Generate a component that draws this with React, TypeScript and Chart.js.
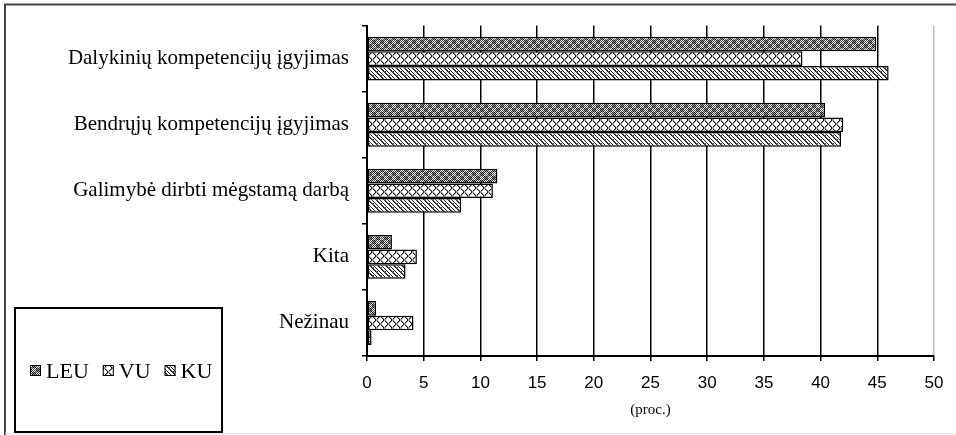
import React, { useEffect, useRef } from "react";
import { Chart, registerables } from "chart.js";

Chart.register(...registerables);

const categories = [
  "Dalykinių kompetencijų įgyjimas",
  "Bendrųjų kompetencijų įgyjimas",
  "Galimybė dirbti mėgstamą darbą",
  "Kita",
  "Nežinau",
];
const seriesNames = ["LEU", "VU", "KU"];
const leuValues = [44.9, 40.4, 11.5, 2.2, 0.8];
const vuValues = [38.4, 42.0, 11.1, 4.4, 4.1];
const kuValues = [46.0, 41.8, 8.3, 3.4, 0.4];
const xMin = 0;
const xMax = 50;
const xStep = 5;
const axisTitle = "(proc.)";

function makePattern(kind: string): CanvasPattern | string {
  const c = document.createElement("canvas");
  const size = 8;
  c.width = size;
  c.height = size;
  const g = c.getContext("2d");
  if (!g) return "#888";
  g.fillStyle = "#fff";
  g.fillRect(0, 0, size, size);
  const px = (x: number, y: number, col: string) => {
    g.fillStyle = col;
    g.fillRect(((x % size) + size) % size, ((y % size) + size) % size, 1, 1);
  };
  if (kind === "LEU") {
    for (let y = 0; y < size; y++)
      for (let x = 0; x < size; x++) {
        const blk = (Math.floor(x / 4) + Math.floor(y / 4)) % 2;
        if ((x + y) % 2 === 0) px(x, y, blk ? "#111" : "#444");
        else if (blk) px(x, y, "#999");
      }
  } else if (kind === "VU") {
    for (let i = 0; i < size; i++) {
      px(i, i, "#111");
      px(i, size - 1 - i, "#111");
    }
    for (let i = 0; i < size; i++) {
      px(i + 1, i, "#999");
      px(i + 1, size - 1 - i, "#999");
    }
  } else {
    for (let y = 0; y < size; y++) {
      px(y, y, "#111");
      px(y + 1, y, "#555");
      px(y + 4, y, "#111");
    }
    for (let i = 0; i < 3; i++) {
      px(6 - i, 2 + i, "#444");
      px(2 - i, 6 + i, "#444");
    }
  }
  const p = g.createPattern(c, "repeat");
  return p || "#888";
}

export default function App() {
  const ref = useRef<HTMLCanvasElement | null>(null);

  useEffect(() => {
    document.body.style.margin = "0";
    const canvas = ref.current;
    if (!canvas) return;
    const patterns = seriesNames.map((n) => makePattern(n));
    const values = [leuValues, vuValues, kuValues];

    const framePlugin = {
      id: "frameAndLegend",
      beforeDraw(chart: any) {
        const ctx = chart.ctx;
        ctx.save();
        ctx.fillStyle = "#fff";
        ctx.fillRect(0, 0, chart.width, chart.height);
        ctx.strokeStyle = "#444";
        ctx.lineWidth = 2;
        ctx.beginPath();
        ctx.moveTo(5, 436);
        ctx.lineTo(5, 4.5);
        ctx.lineTo(960, 4.5);
        ctx.stroke();
        ctx.strokeStyle = "#e6e6e6";
        ctx.lineWidth = 1;
        ctx.beginPath();
        ctx.moveTo(5, 433.5);
        ctx.lineTo(956, 433.5);
        ctx.stroke();
        ctx.restore();
      },
      afterDraw(chart: any) {
        const ctx = chart.ctx;
        ctx.save();
        ctx.fillStyle = "#fff";
        ctx.fillRect(15, 308, 207, 124);
        ctx.strokeStyle = "#000";
        ctx.lineWidth = 2;
        ctx.strokeRect(15, 308, 207, 124);
        ctx.font = "22px 'Liberation Serif', 'Times New Roman', serif";
        ctx.textBaseline = "middle";
        let x = 30;
        const cy = 371;
        chart.data.datasets.forEach((ds: any, i: number) => {
          ctx.fillStyle = patterns[i] as any;
          ctx.fillRect(x, cy - 6, 11, 11);
          ctx.strokeStyle = "#000";
          ctx.lineWidth = 1;
          ctx.strokeRect(x + 0.5, cy - 5.5, 10, 10);
          ctx.fillStyle = "#000";
          ctx.fillText(ds.label, x + 16, cy + 1);
          x += 16 + ctx.measureText(ds.label).width + 14;
        });
        ctx.restore();
      },
    };

    const chart = new Chart(canvas, {
      type: "bar",
      data: {
        labels: categories,
        datasets: seriesNames.map((n, i) => ({
          label: n,
          data: values[i],
          backgroundColor: patterns[i] as any,
          borderColor: "#000",
          borderWidth: 1.5,
          borderSkipped: false,
          categoryPercentage: 0.665,
          barPercentage: 1.0,
        })),
      },
      options: {
        indexAxis: "y",
        animation: false,
        responsive: false,
        maintainAspectRatio: false,
        layout: { padding: { left: 0, right: 22, top: 25, bottom: 0 } },
        plugins: {
          legend: { display: false },
          tooltip: { enabled: false },
        },
        scales: {
          x: {
            type: "linear",
            min: xMin,
            max: xMax,
            ticks: {
              stepSize: xStep,
              color: "#000",
              font: { family: "'Liberation Sans', Arial, sans-serif", size: 17 },
              padding: 12,
              maxRotation: 0,
            },
            grid: {
              color: (c: any) => (c.tick && c.tick.value === xMax ? "#bdbdbd" : "#000"),
              tickColor: "#000",
              tickLength: 5,
              lineWidth: 1.5,
              drawTicks: true,
            },
            border: { display: true, color: "#000", width: 2 },
            title: {
              display: true,
              text: axisTitle,
              color: "#000",
              font: { family: "'Liberation Serif', 'Times New Roman', serif", size: 15 },
              padding: { top: 4, bottom: 16 },
            },
            afterFit: (s: any) => {
              s.height = 79;
            },
          },
          y: {
            type: "category",
            offset: true,
            ticks: {
              color: "#000",
              font: { family: "'Liberation Serif', 'Times New Roman', serif", size: 21 },
              padding: 13,
            },
            grid: {
              display: true,
              drawOnChartArea: false,
              offset: true,
              tickLength: 5,
              tickColor: "#000",
              lineWidth: 1.5,
            },
            border: { display: true, color: "#000", width: 2 },
            afterFit: (s: any) => {
              s.width = 367;
            },
          },
        },
      },
      plugins: [framePlugin],
    } as any);

    return () => chart.destroy();
  }, []);

  return (
    <div style={{ position: "fixed", left: 0, top: 0, width: 956, height: 435 }}>
      <canvas ref={ref} width={956} height={435} style={{ width: 956, height: 435, display: "block" }} />
    </div>
  );
}
